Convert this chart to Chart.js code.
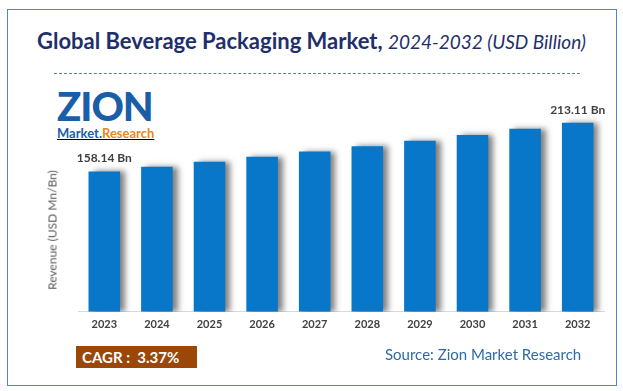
<!DOCTYPE html>
<html>
<head>
<meta charset="utf-8">
<script src="https://cdn.jsdelivr.net/npm/chart.js@4.4.0/dist/chart.umd.min.js"></script>
<style>
    body { margin: 0; background: #fff; font-family: Lato, sans-serif; }
    #wrap { position: relative; width: 623px; height: 391px; overflow: hidden; }
    #frame { position: absolute; left: 7px; top: 9px; width: 608px; height: 375px; border: 1.5px solid #4f86c6; }
    #title { position: absolute; left: 0; top: 27px; width: 623px; text-align: center; color: #1f2f6b; font-size: 22px; font-weight: bold; white-space: nowrap; }
    #title i { font-weight: normal; font-size: 19px; }
    #dash { position: absolute; left: 54px; top: 73px; width: 526px; border-top: 1px dashed #5b7fb0; }
    #logo { position: absolute; left: 57px; top: 86px; }
    #logo .big { font-size: 40px; font-weight: 900; color: #1b5ea8; line-height: 40px; letter-spacing: -1px; }
    #logo .small { font-size: 13px; font-weight: bold; line-height: 14px; text-decoration: underline; }
    #ytitle { position: absolute; left: 52px; top: 230px; transform: translate(-50%, -50%) rotate(-90deg); color: #595959; font-size: 12px; white-space: nowrap; }
    #cagr { position: absolute; left: 76px; top: 346px; width: 121px; height: 22px; background: #9a4708; color: #fff; font-weight: bold; font-size: 15px; line-height: 22px; padding-left: 6px; box-sizing: border-box; }
    #source { position: absolute; left: 385px; top: 345px; color: #2f6aa8; font-size: 15px; }
    canvas { position: absolute; left: 0; top: 0; }
</style>
</head>
<body>
<div id="wrap">
    <div id="frame"></div>
    <div id="title">Global Beverage Packaging Market, <i>2024-2032 (USD Billion)</i></div>
    <div id="dash"></div>
    <div id="logo">
        <div class="big">ZION</div>
        <div class="small"><span style="color:#1b5ea8">Market.</span><span style="color:#e8861f">Research</span></div>
    </div>
    <canvas id="market" width="623" height="391"></canvas>
    <div id="ytitle">Revenue (USD Mn/Bn)</div>
    <div id="cagr">CAGR : &nbsp;3.37%</div>
    <div id="source">Source: Zion Market Research</div>
</div>
<script>
// values (USD billion)
let years = ['2023', '2024', '2025', '2026', '2027', '2028', '2029', '2030', '2031', '2032'];
let revenue = [158.14, 163.5, 169.0, 174.7, 180.6, 186.6, 192.9, 199.4, 206.2, 213.11];
let value_labels = ['158.14 Bn', '', '', '', '', '', '', '', '', '213.11 Bn'];

// soft grey shadow on the right side of each bar
let barShadow = {
    id: 'barShadow',
    beforeDatasetsDraw: function (chart) {
        let ctx = chart.ctx;
        ctx.save();
        ctx.shadowColor = 'rgba(0, 0, 0, 0.5)';
        ctx.shadowBlur = 6;
        ctx.shadowOffsetX = 5;
        ctx.shadowOffsetY = 0;
    },
    afterDatasetsDraw: function (chart) {
        chart.ctx.restore();
    }
};

let valueLabels = {
    id: 'valueLabels',
    afterDatasetsDraw: function (chart) {
        let ctx = chart.ctx;
        let meta = chart.getDatasetMeta(0);
        ctx.save();
        ctx.font = 'bold 12px Lato';
        ctx.fillStyle = '#404040';
        ctx.textAlign = 'center';
        ctx.textBaseline = 'bottom';
        meta.data.forEach(function (bar, i) {
            if (value_labels[i]) {
                ctx.fillText(value_labels[i], bar.x, bar.y - 7);
            }
        });
        ctx.restore();
    }
};

let ctx = document.getElementById('market').getContext('2d');
let chart = new Chart(ctx, {
    type: 'bar',
    data: {
        labels: years,
        datasets: [{
            data: revenue,
            backgroundColor: '#0877c9',
            borderWidth: 0,
            barPercentage: 0.6,
            categoryPercentage: 1.0
        }]
    },
    options: {
        responsive: false,
        animation: false,
        layout: { padding: { left: 78, right: 19, top: 90, bottom: 54 } },
        plugins: {
            legend: { display: false },
            tooltip: { enabled: false }
        },
        scales: {
            x: {
                grid: { display: false, drawTicks: false },
                border: { display: true, color: '#d9d9d9', width: 1 },
                ticks: { color: '#404040', font: { family: 'Lato', size: 11, weight: 'bold' }, padding: 6 }
            },
            y: {
                display: false,
                min: 0,
                max: 250
            }
        }
    },
    plugins: [barShadow, valueLabels]
});
</script>
</body>
</html>
